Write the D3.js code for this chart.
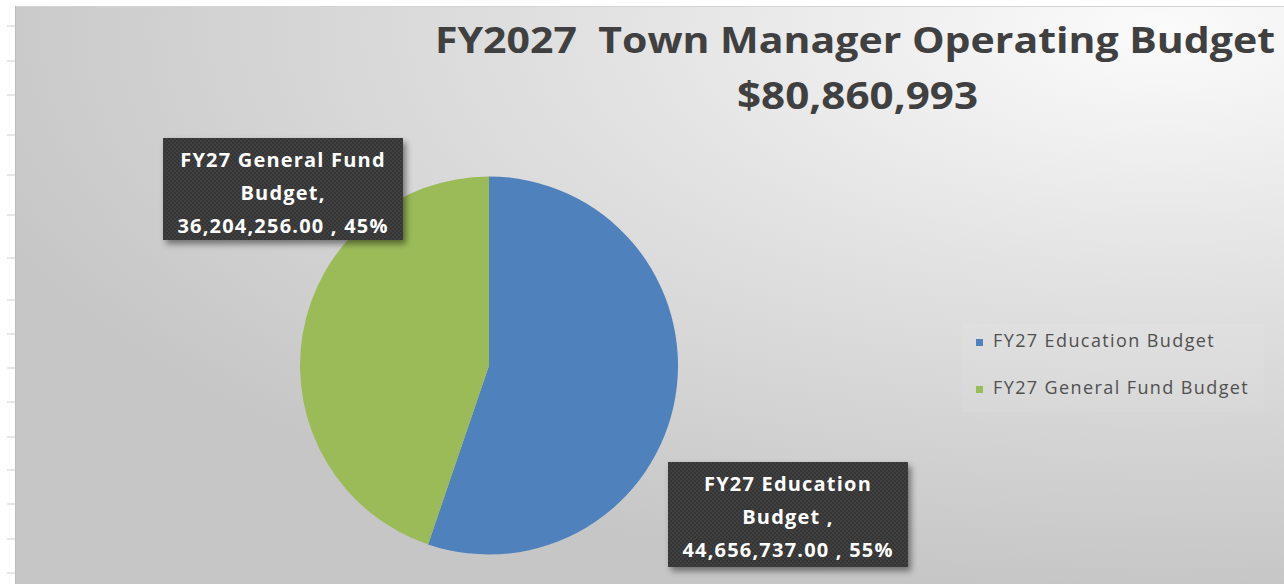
<!DOCTYPE html>
<html>
<head>
<meta charset="utf-8">
<script src="https://cdn.jsdelivr.net/npm/d3@7"></script>
<style>
  html, body { margin: 0; padding: 0; background: #ffffff; }
  svg { display: block; }
</style>
</head>
<body>
<div id="chart"></div>
<script>
// data
var categories = ["FY27 Education Budget ", "FY27 General Fund Budget"];
var labelHeads = [["FY27 Education", "Budget ,"], ["FY27 General Fund", "Budget,"]];
var values = [44656737.00, 36204256.00];
var sliceColors = ["#4f81bd", "#9bbb59"];
var titleText = "FY2027  Town Manager Operating Budget";
// spreadsheet row lines on the left margin
var rowLines = [26, 61, 95, 135, 175, 215, 258, 300, 334, 368, 402, 437, 470, 504, 539, 573];

var width = 1284, height = 584;

var svg = d3.select("#chart").append("svg")
  .attr("width", width)
  .attr("height", height);

var defs = svg.append("defs");

var bg = defs.append("radialGradient")
  .attr("id", "bgGrad")
  .attr("gradientUnits", "userSpaceOnUse")
  .attr("cx", 0).attr("cy", 0).attr("r", 1)
  .attr("gradientTransform", "translate(1160,30) scale(1250,560)");
bg.append("stop").attr("offset", "0%").attr("stop-color", "#fbfbfb");
bg.append("stop").attr("offset", "45%").attr("stop-color", "#e2e2e2");
bg.append("stop").attr("offset", "100%").attr("stop-color", "#c6c6c6");

var dots = defs.append("pattern")
  .attr("id", "dots")
  .attr("patternUnits", "userSpaceOnUse")
  .attr("width", 4).attr("height", 4);
dots.append("rect").attr("width", 4).attr("height", 4).attr("fill", "#363636");
dots.append("circle").attr("cx", 1).attr("cy", 1).attr("r", 0.7).attr("fill", "#4d4d4d");
dots.append("circle").attr("cx", 3).attr("cy", 3).attr("r", 0.7).attr("fill", "#4d4d4d");

var shadow = defs.append("filter")
  .attr("id", "shadow")
  .attr("x", "-10%").attr("y", "-10%")
  .attr("width", "130%").attr("height", "140%");
shadow.append("feDropShadow")
  .attr("dx", 3).attr("dy", 4)
  .attr("stdDeviation", 3)
  .attr("flood-color", "#000")
  .attr("flood-opacity", 0.45);

// left margin with row ticks
svg.selectAll(".row")
  .data(rowLines)
  .enter()
  .append("line")
  .attr("x1", 7).attr("x2", 15)
  .attr("y1", function(d) { return d; })
  .attr("y2", function(d) { return d; })
  .attr("stroke", "#cfcfcf")
  .attr("stroke-width", 1);

// chart area
svg.append("rect")
  .attr("x", 15).attr("y", 6)
  .attr("width", width - 15).attr("height", height - 6)
  .attr("fill", "url(#bgGrad)");
svg.append("line")
  .attr("x1", 15).attr("x2", width).attr("y1", 6.5).attr("y2", 6.5)
  .attr("stroke", "#d4d4d4");
svg.append("line")
  .attr("x1", 15.5).attr("x2", 15.5).attr("y1", 6).attr("y2", height)
  .attr("stroke", "#bdbdbd");

// title
var total = d3.sum(values);
svg.append("text")
  .attr("x", 435).attr("y", 53)
  .attr("textLength", 840)
  .attr("lengthAdjust", "spacingAndGlyphs")
  .attr("font-family", "'Open Sans', sans-serif")
  .attr("font-weight", 700)
  .attr("font-size", 36)
  .attr("fill", "#404040")
  .style("white-space", "pre")
  .text(titleText);
svg.append("text")
  .attr("x", 737).attr("y", 109)
  .attr("textLength", 241)
  .attr("lengthAdjust", "spacingAndGlyphs")
  .attr("font-family", "'Open Sans', sans-serif")
  .attr("font-weight", 700)
  .attr("font-size", 37)
  .attr("fill", "#404040")
  .text(d3.format("$,")(total));

// pie
var cx = 489, cy = 365.5, radius = 189;
var color = d3.scaleOrdinal().domain(categories).range(sliceColors);
var pie = d3.pie().sort(null).value(function(d) { return d.value; });
var arc = d3.arc().innerRadius(0).outerRadius(radius);

var rows = categories.map(function(c, i) {
  return { name: c, value: values[i], head: labelHeads[i] };
});
var arcs = pie(rows);

var pieG = svg.append("g")
  .attr("transform", "translate(" + cx + "," + cy + ")");

pieG.selectAll("path")
  .data(arcs)
  .enter()
  .append("path")
  .attr("d", arc)
  .attr("fill", function(d) { return color(d.data.name); });

// data callouts
var fmtVal = d3.format(",.2f");
var fmtPct = d3.format(".0%");
var boxes = [
  { x: 668, y: 462, w: 240, h: 105 },
  { x: 163, y: 138, w: 240, h: 102 }
];

var callout = svg.selectAll(".callout")
  .data(arcs)
  .enter()
  .append("g")
  .attr("class", "callout");

callout.append("rect")
  .attr("x", function(d, i) { return boxes[i].x; })
  .attr("y", function(d, i) { return boxes[i].y; })
  .attr("width", function(d, i) { return boxes[i].w; })
  .attr("height", function(d, i) { return boxes[i].h; })
  .attr("fill", "url(#dots)")
  .attr("filter", "url(#shadow)");

callout.each(function(d, i) {
  var lines = [d.data.head[0], d.data.head[1],
    fmtVal(d.data.value) + " , " + fmtPct(d.data.value / total)];
  var b = boxes[i];
  d3.select(this).selectAll("text")
    .data(lines)
    .enter()
    .append("text")
    .attr("x", b.x + b.w / 2)
    .attr("y", function(t, j) { return b.y + 29 + j * 33; })
    .attr("text-anchor", "middle")
    .attr("font-family", "'Open Sans', sans-serif")
    .attr("font-weight", 700)
    .attr("font-size", 20)
    .attr("letter-spacing", 1.2)
    .attr("fill", "#ffffff")
    .style("white-space", "pre")
    .text(function(t) { return t; });
});

// legend
var legend = svg.append("g");
legend.append("rect")
  .attr("x", 962).attr("y", 324)
  .attr("width", 302).attr("height", 88)
  .attr("fill", "#ffffff")
  .attr("fill-opacity", 0.07);

var item = legend.selectAll(".item")
  .data(categories)
  .enter()
  .append("g")
  .attr("transform", function(d, i) { return "translate(976," + (347 + i * 47) + ")"; });

item.append("rect")
  .attr("x", 0).attr("y", -8)
  .attr("width", 7).attr("height", 7)
  .attr("fill", function(d) { return color(d); });

item.append("text")
  .attr("x", 17).attr("y", 0)
  .attr("font-family", "'Open Sans', sans-serif")
  .attr("font-size", 18)
  .attr("letter-spacing", 1.4)
  .attr("fill", "#505050")
  .text(function(d) { return d.trim(); });
</script>
</body>
</html>
